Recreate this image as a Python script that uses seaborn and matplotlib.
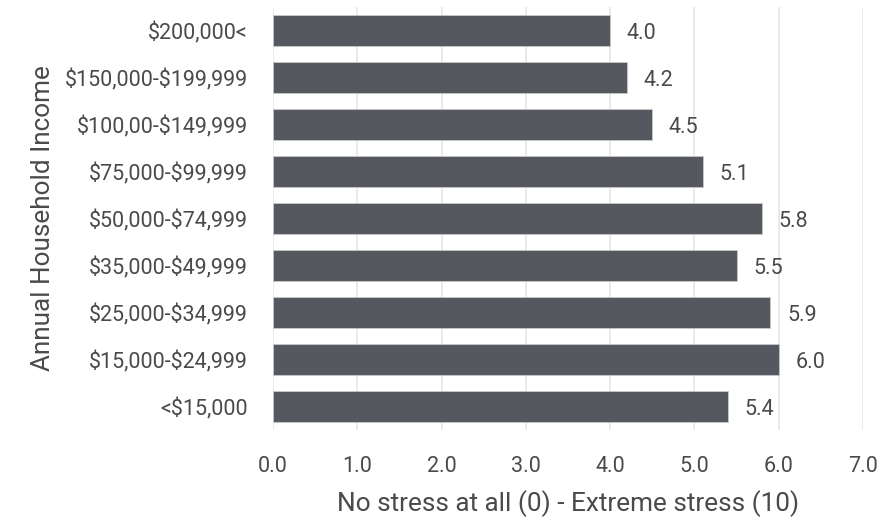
import matplotlib
matplotlib.use("Agg")
import matplotlib.pyplot as plt
import seaborn as sns
import pandas as pd

income_brackets = [
    "$200,000<",
    "$150,000-$199,999",
    "$100,00-$149,999",
    "$75,000-$99,999",
    "$50,000-$74,999",
    "$35,000-$49,999",
    "$25,000-$34,999",
    "$15,000-$24,999",
    "<$15,000",
]
stress_scores = [4.0, 4.2, 4.5, 5.1, 5.8, 5.5, 5.9, 6.0, 5.4]
x_ticks = [0, 1, 2, 3, 4, 5, 6, 7]

df = pd.DataFrame({"income": income_brackets, "stress": stress_scores})

sns.set_theme(style="white")
plt.rcParams["font.family"] = ["Roboto", "DejaVu Sans"]
plt.rcParams["text.parse_math"] = False

text_color = "#4a4a4a"
bar_color = "#55585e"

fig = plt.figure(figsize=(8.92, 5.2), dpi=100)
ax = fig.add_axes([0.306, 0.173, 0.6615, 0.8135])

sns.barplot(data=df, x="stress", y="income", orient="h", color=bar_color,
            width=0.66, edgecolor="#c8c8c8", linewidth=0.6, saturation=1,
            ax=ax, zorder=3)

ax.set_xlim(0, 7)
ax.set_ylim(len(income_brackets) - 0.5, -0.5)
ax.set_xticks(x_ticks)
ax.set_xticklabels([f"{t:.1f}" for t in x_ticks])
ax.grid(axis="x", color="#e6e6e6", linewidth=1.2, zorder=0)
ax.grid(axis="y", visible=False)
for s in ax.spines.values():
    s.set_visible(False)
ax.tick_params(axis="both", length=0, labelsize=15.5, colors=text_color)
ax.tick_params(axis="x", pad=19)
ax.tick_params(axis="y", pad=18)

for i, v in enumerate(stress_scores):
    ax.annotate(f"{v:.1f}", xy=(v, i), xytext=(12, -2), textcoords="offset points",
                ha="left", va="center", fontsize=15.5, color=text_color)

ax.set_xlabel("No stress at all (0) - Extreme stress (10)", fontsize=18.8,
              color=text_color, labelpad=9)
ax.set_ylabel("Annual Household Income", fontsize=18.8, color=text_color,
              labelpad=7)

fig.savefig("out.png", dpi=100)
